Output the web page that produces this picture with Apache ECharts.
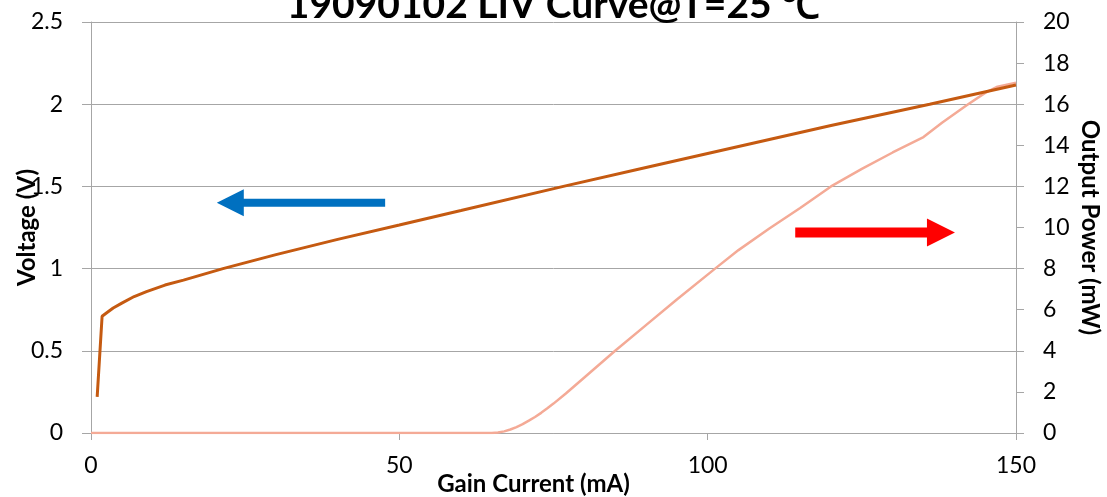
<!DOCTYPE html>
<html>
<head>
<meta charset="utf-8">
<script src="https://cdn.jsdelivr.net/npm/echarts@6/dist/echarts.min.js"></script>
<style>html,body{margin:0;padding:0;background:#fff}#c{width:1107px;height:497px}</style>
</head>
<body>
<div id="c"></div>
<script>
const titleText = '19090102 LIV Curve@T=25 ℃';
const xName = 'Gain Current (mA)';
const leftName = 'Voltage (V)';
const rightName = 'Output Power (mW)';

// Voltage (V) vs gain current (mA)
const voltageCurrent = [1, 1.8, 2.5, 3.6, 5, 7, 9, 12, 15, 21.4, 30, 40, 50, 60, 76.6, 90, 100, 110, 120, 136, 150];
const voltageValues  = [0.22, 0.71, 0.73, 0.76, 0.79, 0.83, 0.86, 0.9, 0.93, 1.0, 1.085, 1.178, 1.265, 1.353, 1.5, 1.615, 1.70, 1.785, 1.87, 2.0, 2.117];

// Output power (mW) vs gain current (mA)
const powerCurrent = [0, 65, 66, 67, 68, 69, 70, 71, 72, 73, 74, 75, 77, 80, 85, 90, 95, 101, 105, 110, 115, 120, 125, 130, 135, 138, 142, 145, 147, 150];
const powerValues  = [0, 0, 0.02, 0.08, 0.17, 0.29, 0.43, 0.6, 0.78, 0.98, 1.2, 1.43, 1.92, 2.7, 4.0, 5.25, 6.5, 7.95, 8.9, 9.95, 10.95, 12.0, 12.85, 13.65, 14.4, 15.1, 15.95, 16.55, 16.85, 17.05];

// Annotation arrows in data space: [x, y] from tail to tip
const blueArrow = { from: [47.7, 1.40], to: [20.4, 1.40], yAxis: 0 };
const redArrow  = { from: [114.2, 9.76], to: [140.1, 9.76], yAxis: 1 };

const xTicks = [0, 50, 100, 150];

const chart = echarts.init(document.getElementById('c'), null, {renderer: 'canvas'});
const FONT = 'Lato, "Open Sans", sans-serif';
const option = {
  animation: false,
  backgroundColor: '#ffffff',
  title: {
    text: titleText, left: 'center', top: -19,
    textStyle: {fontFamily: FONT, fontSize: 39, fontWeight: 'bold', color: '#000'}
  },
  grid: {left: 91, right: 91, top: 22, bottom: 64, containLabel: false, outerBoundsMode: 'none'},
  xAxis: {
    type: 'value', min: 0, max: 150, interval: 50,
    name: xName, nameLocation: 'middle', nameGap: 39, nameMoveOverlap: false,
    nameTextStyle: {fontFamily: FONT, fontSize: 24, fontWeight: 'bold', color: '#000', padding: [0, 40, 0, 0]},
    axisLine: {show: true, onZero: false, lineStyle: {color: '#A6A6A6', width: 1}},
    axisTick: {show: true, inside: false, length: 7, lineStyle: {color: '#A6A6A6'}},
    axisLabel: {fontFamily: FONT, fontSize: 23, color: '#000', margin: 21,
      formatter: v => xTicks.includes(v) ? String(v) : ''},
    splitLine: {show: false}
  },
  yAxis: [{
    type: 'value', min: 0, max: 2.5, interval: 0.5, position: 'left',
    name: leftName, nameLocation: 'middle', nameGap: 52, nameRotate: 90, nameMoveOverlap: false,
    nameTextStyle: {fontFamily: FONT, fontSize: 24, fontWeight: 'bold', color: '#000'},
    axisLine: {show: true, lineStyle: {color: '#A6A6A6', width: 1}},
    axisTick: {show: true, inside: false, length: 9, lineStyle: {color: '#A6A6A6'}},
    axisLabel: {fontFamily: FONT, fontSize: 23, color: '#000', margin: 28},
    splitLine: {show: true, lineStyle: {color: '#A6A6A6', width: 1}}
  }, {
    type: 'value', min: 0, max: 20, interval: 2, position: 'right',
    name: rightName, nameLocation: 'middle', nameGap: 62, nameRotate: -90, nameMoveOverlap: false,
    nameTextStyle: {fontFamily: FONT, fontSize: 24, fontWeight: 'bold', color: '#000'},
    axisLine: {show: true, lineStyle: {color: '#A6A6A6', width: 1}},
    axisTick: {show: true, inside: false, length: 8, lineStyle: {color: '#A6A6A6'}},
    axisLabel: {fontFamily: FONT, fontSize: 23, color: '#000', margin: 27},
    splitLine: {show: false}
  }],
  series: [{
    name: 'Voltage', type: 'line', yAxisIndex: 0, showSymbol: false, smooth: false,
    data: voltageCurrent.map((x, i) => [x, voltageValues[i]]),
    lineStyle: {color: '#C55A11', width: 3}, itemStyle: {color: '#C55A11'}, z: 3
  }, {
    name: 'Power', type: 'line', yAxisIndex: 1, showSymbol: false, smooth: false,
    data: powerCurrent.map((x, i) => [x, powerValues[i]]),
    lineStyle: {color: '#F4AA96', width: 2.5}, itemStyle: {color: '#F4AA96'}, z: 2
  }]
};
chart.setOption(option);

function arrowPolygon(a, shaft, headLen, headW) {
  const p0 = chart.convertToPixel({xAxisIndex: 0, yAxisIndex: a.yAxis}, a.from);
  const p1 = chart.convertToPixel({xAxisIndex: 0, yAxisIndex: a.yAxis}, a.to);
  const dx = p1[0] - p0[0], dy = p1[1] - p0[1];
  const L = Math.hypot(dx, dy);
  const ux = dx / L, uy = dy / L, nx = -uy, ny = ux;
  const neck = [p1[0] - ux * headLen, p1[1] - uy * headLen];
  return [
    [p0[0] + nx * shaft / 2, p0[1] + ny * shaft / 2],
    [neck[0] + nx * shaft / 2, neck[1] + ny * shaft / 2],
    [neck[0] + nx * headW / 2, neck[1] + ny * headW / 2],
    [p1[0], p1[1]],
    [neck[0] - nx * headW / 2, neck[1] - ny * headW / 2],
    [neck[0] - nx * shaft / 2, neck[1] - ny * shaft / 2],
    [p0[0] - nx * shaft / 2, p0[1] - ny * shaft / 2]
  ];
}

chart.setOption({
  graphic: [
    {type: 'polygon', shape: {points: arrowPolygon(blueArrow, 8, 27, 27)}, style: {fill: '#0070C0'}, z: 10},
    {type: 'polygon', shape: {points: arrowPolygon(redArrow, 10, 28, 28)}, style: {fill: '#FF0000'}, z: 10}
  ]
});
</script>
</body>
</html>
